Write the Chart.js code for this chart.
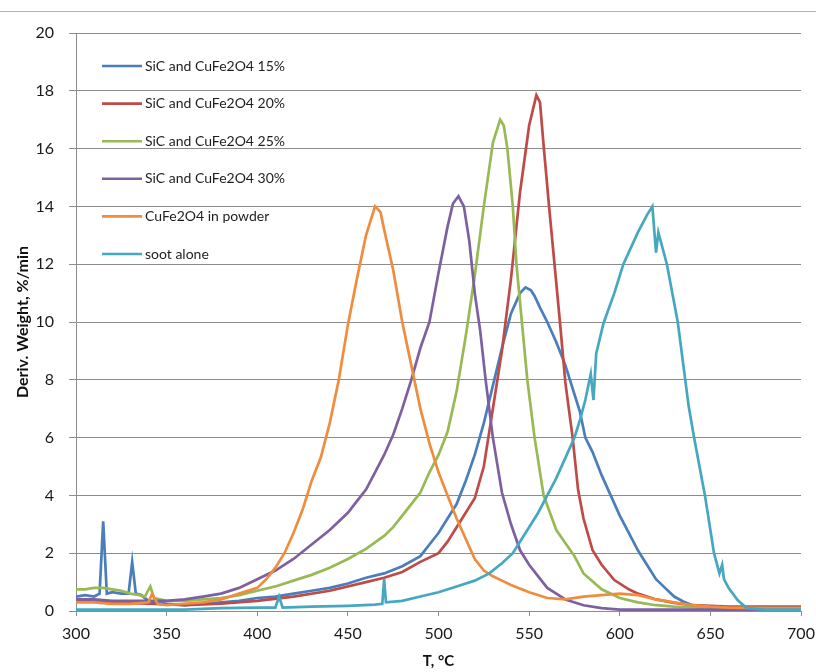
<!DOCTYPE html>
<html>
<head>
<meta charset="utf-8">
<script src="https://cdn.jsdelivr.net/npm/chart.js@4/dist/chart.umd.min.js"></script>
<style>
  html, body { margin: 0; padding: 0; background: #fff; }
  #wrap { position: relative; width: 816px; height: 672px; overflow: hidden; }
  #topline { position: absolute; left: 0; top: 11px; width: 816px; height: 0; border-top: 1px solid #b0b0b0; }
  canvas { position: absolute; left: 0; top: 0; }
</style>
</head>
<body>
<div id="wrap">
  <div id="topline"></div>
  <canvas id="c" width="816" height="672"></canvas>
</div>
<script>
// ---- Data ----
const seriesLabels = [
  "SiC and CuFe2O4 15%",
  "SiC and CuFe2O4 20%",
  "SiC and CuFe2O4 25%",
  "SiC and CuFe2O4 30%",
  "CuFe2O4 in powder",
  "soot alone"
];

const tBlue = [300,305,310,313,315,317,320,325,329,331,333,336,340,350,360,370,380,390,400,410,420,430,440,450,460,470,480,490,495,500,505,510,515,520,525,530,535,540,545,548,551,553,556,560,565,570,575,578,581,585,590,595,600,605,610,615,620,625,630,635,640,650,660,680,700];
const vBlue = [0.5,0.55,0.5,0.6,3.1,0.6,0.65,0.6,0.6,1.7,0.6,0.55,0.35,0.25,0.2,0.25,0.3,0.35,0.45,0.5,0.6,0.7,0.8,0.95,1.15,1.3,1.55,1.9,2.3,2.7,3.2,3.7,4.5,5.4,6.5,7.8,9.1,10.3,11.0,11.2,11.1,10.9,10.5,10.0,9.3,8.5,7.5,6.9,6.0,5.5,4.7,4.0,3.3,2.7,2.1,1.6,1.1,0.8,0.5,0.33,0.2,0.12,0.1,0.1,0.1];

const tRed = [300,320,340,360,380,400,420,440,460,470,480,490,500,505,510,515,520,525,530,535,540,545,550,554,556,558,561,564,567,570,574,577,580,585,590,597,605,610,620,630,640,660,680,700];
const vRed = [0.35,0.3,0.25,0.2,0.25,0.35,0.5,0.7,1.0,1.15,1.35,1.7,2.0,2.4,2.9,3.4,3.9,5.0,7.0,9.0,11.5,14.5,16.8,17.85,17.6,16.1,14.0,12.0,10.0,7.9,6.0,4.2,3.2,2.1,1.6,1.07,0.75,0.6,0.4,0.28,0.2,0.15,0.15,0.15];

const tGreen = [300,305,310,315,320,325,330,335,338,341,343,350,360,370,380,390,400,410,420,430,440,450,460,470,475,480,485,490,495,500,505,510,515,520,525,530,534,536,538,541,543,546,549,553,558,565,575,580,590,600,610,620,630,650,700];
const vGreen = [0.75,0.75,0.8,0.8,0.75,0.7,0.6,0.55,0.5,0.85,0.45,0.35,0.35,0.4,0.45,0.55,0.7,0.85,1.05,1.25,1.5,1.8,2.15,2.6,2.9,3.3,3.7,4.1,4.8,5.4,6.2,7.6,9.5,11.6,14.0,16.2,17.0,16.8,16.0,14.0,12.0,10.0,8.0,6.0,4.0,2.8,1.9,1.3,0.75,0.45,0.3,0.2,0.15,0.1,0.1];

const tPurple = [300,310,320,330,340,350,360,370,380,390,400,410,420,430,440,450,455,460,465,470,475,480,485,490,495,500,505,508,511,514,517,520,523,526,530,535,540,545,550,555,560,565,570,580,590,600,650,700];
const vPurple = [0.4,0.4,0.35,0.35,0.35,0.35,0.4,0.5,0.6,0.8,1.1,1.4,1.8,2.3,2.8,3.4,3.8,4.2,4.8,5.4,6.1,7.0,8.0,9.1,10.0,11.7,13.3,14.1,14.35,14.0,12.8,11.0,9.7,8.0,6.0,4.1,3.0,2.1,1.6,1.2,0.8,0.6,0.4,0.2,0.1,0.05,0.05,0.05];

const tOrange = [300,310,320,330,340,342,345,350,360,370,380,390,400,405,410,415,420,425,430,435,440,445,450,455,460,465,468,470,475,480,485,490,495,500,505,510,515,520,525,530,535,540,550,560,570,580,590,600,610,620,630,640,650,660,680,700];
const vOrange = [0.3,0.3,0.25,0.25,0.3,0.6,0.25,0.2,0.25,0.3,0.4,0.6,0.8,1.1,1.5,2.0,2.7,3.5,4.5,5.3,6.5,8.0,9.9,11.5,13.0,14.0,13.8,13.2,11.8,10.0,8.5,7.0,5.8,4.8,4.0,3.2,2.5,1.8,1.4,1.2,1.05,0.9,0.65,0.45,0.4,0.5,0.55,0.6,0.55,0.4,0.3,0.2,0.15,0.12,0.1,0.1];

const tCyan = [300,320,340,360,380,400,410,412,414,430,450,465,469,470,471,480,490,500,510,520,528,535,541,548,555,560,565,570,575,578,581,584,585.5,587,591,597,602,610,615,618,620,621.3,626,632,638,641,644,647,650,652,655,656.5,657.5,660,665,670,680,700];
const vCyan = [0.05,0.05,0.05,0.05,0.1,0.12,0.12,0.5,0.12,0.15,0.18,0.22,0.25,1.1,0.3,0.35,0.5,0.65,0.85,1.05,1.3,1.65,2.0,2.7,3.4,4.0,4.6,5.3,6.0,6.6,7.3,8.2,7.3,8.9,9.95,11.0,12.0,13.1,13.7,14.0,12.4,13.1,12.0,10.0,7.1,6.0,5.0,4.0,2.8,2.0,1.3,1.6,1.1,0.8,0.38,0.1,0.05,0.05];

const seriesT = [tBlue, tRed, tGreen, tPurple, tOrange, tCyan];
const seriesV = [vBlue, vRed, vGreen, vPurple, vOrange, vCyan];
const seriesColors = ["#4A7EBB", "#BE4B48", "#98B954", "#7D60A0", "#F08C3E", "#46A7C1"];

const xTicks = [300,350,400,450,500,550,600,650,700];
const yTicks = [0,2,4,6,8,10,12,14,16,18,20];

const datasets = seriesLabels.map((lab, i) => ({
  label: lab,
  data: seriesT[i].map((t, k) => ({ x: t, y: seriesV[i][k] })),
  borderColor: seriesColors[i],
  backgroundColor: seriesColors[i],
  borderWidth: 2.7,
  pointRadius: 0,
  tension: 0,
  fill: false,
  order: seriesLabels.length - i
}));

const insideLegend = {
  id: 'insideLegend',
  afterDraw(chart) {
    const ctx = chart.ctx;
    const ca = chart.chartArea;
    ctx.save();
    ctx.font = '14px Lato, "Liberation Sans", sans-serif';
    ctx.textBaseline = 'middle';
    ctx.textAlign = 'left';
    chart.data.datasets.forEach((ds, i) => {
      const y = ca.top + 33 + i * 37.6;
      ctx.strokeStyle = ds.borderColor;
      ctx.lineWidth = 2.6;
      ctx.beginPath();
      ctx.moveTo(ca.left + 26, y);
      ctx.lineTo(ca.left + 66, y);
      ctx.stroke();
      ctx.fillStyle = '#1e1e1e';
      ctx.fillText(ds.label, ca.left + 69, y);
    });
    ctx.restore();
  }
};

new Chart(document.getElementById('c'), {
  type: 'line',
  data: { datasets },
  plugins: [insideLegend],
  options: {
    responsive: false,
    animation: false,
    layout: { padding: { top: 33, right: 0, left: 0, bottom: 0 } },
    plugins: { legend: { display: false }, tooltip: { enabled: false } },
    scales: {
      x: {
        type: 'linear',
        min: 300, max: 700,
        afterBuildTicks(scale) { scale.ticks = xTicks.map(v => ({ value: v })); },
        afterFit(scale) { scale.height = 61; scale.paddingRight = 15; scale.paddingLeft = 0; },
        ticks: { color: '#1a1a1a', font: { family: 'Lato', size: 16 }, padding: 8, maxRotation: 0 },
        grid: { drawOnChartArea: false, color: '#8c8c8c', tickLength: 5, lineWidth: 1 },
        border: { color: '#8c8c8c', width: 1 },
        title: { display: true, text: 'T, °C', color: '#111', font: { family: 'Lato', size: 15, weight: 'bold' }, padding: { top: 2, bottom: 2 } }
      },
      y: {
        min: 0, max: 20,
        afterBuildTicks(scale) { scale.ticks = yTicks.map(v => ({ value: v })); },
        afterFit(scale) { scale.width = 76; },
        ticks: { color: '#1a1a1a', font: { family: 'Lato', size: 16 }, padding: 15 },
        grid: { color: '#8c8c8c', tickLength: 7, lineWidth: 1 },
        border: { color: '#8c8c8c', width: 1 },
        title: { display: true, text: 'Deriv. Weight, %/min', color: '#111', font: { family: 'Lato', size: 16, weight: 'bold' }, padding: { top: 13, bottom: 0 } }
      }
    }
  }
});
</script>
</body>
</html>
